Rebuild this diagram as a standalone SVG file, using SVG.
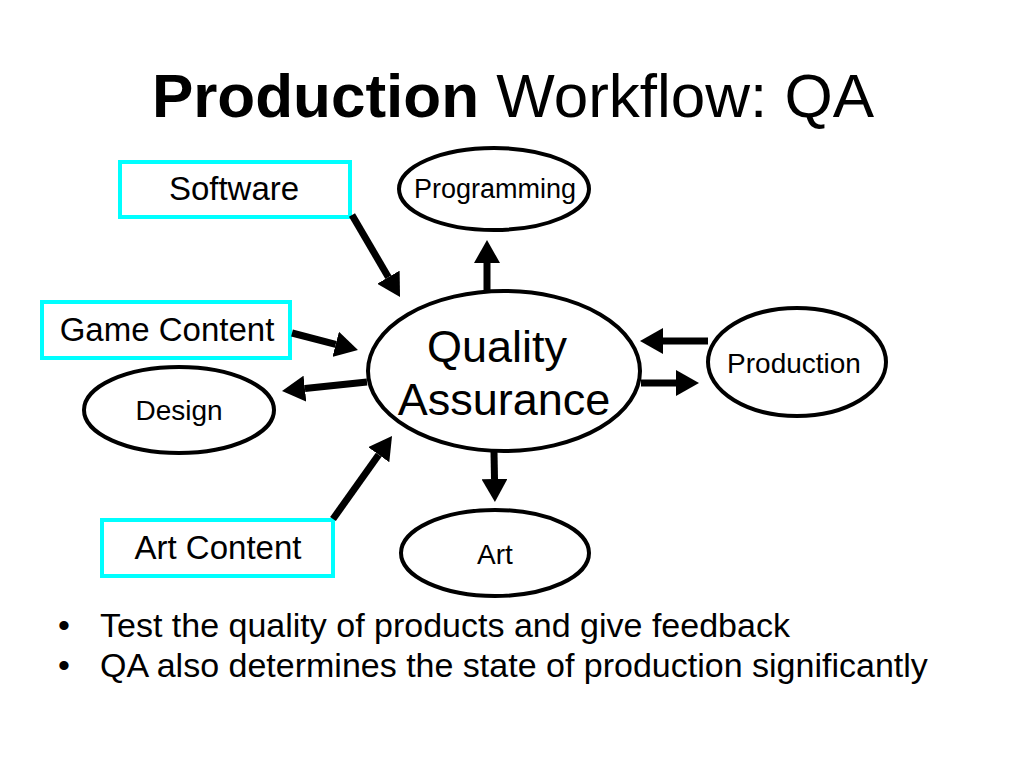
<svg xmlns="http://www.w3.org/2000/svg" width="1024" height="768" viewBox="0 0 1024 768">
<style>
text{font-family:"Liberation Sans",Arial,sans-serif;fill:#000}
.box{fill:#fff;stroke:#00ffff;stroke-width:4}
.ell{fill:#fff;stroke:#000;stroke-width:4}
.arr{stroke:#000;stroke-width:7;fill:none;marker-end:url(#ah)}
</style>
<defs>
<marker id="ah" markerUnits="userSpaceOnUse" markerWidth="24" markerHeight="26" refX="0" refY="13" orient="auto">
<path d="M0,0 L23,13 L0,26 z" fill="#000"/>
</marker>
</defs>
<rect width="1024" height="768" fill="#fff"/>
<text x="513" y="117" font-size="62" text-anchor="middle"><tspan font-weight="bold">Production</tspan> Workflow: QA</text>

<g id="software"><rect class="box" x="120" y="162" width="230" height="55"/><text x="234" y="200" font-size="33" text-anchor="middle">Software</text></g>
<g id="game-content"><rect class="box" x="42" y="302" width="248" height="56"/><text x="167" y="341" font-size="33" text-anchor="middle">Game Content</text></g>
<g id="art-content"><rect class="box" x="102" y="520" width="231" height="56"/><text x="218" y="559" font-size="33" text-anchor="middle">Art Content</text></g>

<g id="programming"><ellipse class="ell" cx="494" cy="189" rx="95" ry="41"/><text x="495" y="198" font-size="27" text-anchor="middle">Programming</text></g>
<g id="qa"><ellipse class="ell" cx="504" cy="371" rx="136" ry="80"/><text x="497" y="362" font-size="45" text-anchor="middle">Quality</text><text x="504" y="415" font-size="45" text-anchor="middle">Assurance</text></g>
<g id="production"><ellipse class="ell" cx="797" cy="362" rx="89" ry="54"/><text x="794" y="373" font-size="28" text-anchor="middle">Production</text></g>
<g id="design"><ellipse class="ell" cx="179" cy="410" rx="95" ry="43"/><text x="179" y="420" font-size="28" text-anchor="middle">Design</text></g>
<g id="art"><ellipse class="ell" cx="495" cy="553" rx="94" ry="43"/><text x="495" y="564" font-size="28" text-anchor="middle">Art</text></g>

<g id="connectors">
<line class="arr" x1="352" y1="215" x2="388.4" y2="277.2"/>
<line class="arr" x1="487" y1="290" x2="487" y2="263"/>
<line class="arr" x1="292" y1="333" x2="335.7" y2="344.3"/>
<line class="arr" x1="367" y1="382" x2="304.9" y2="388.6"/>
<line class="arr" x1="708" y1="341" x2="663" y2="341"/>
<line class="arr" x1="641" y1="383" x2="676" y2="383"/>
<line class="arr" x1="494" y1="452" x2="494.5" y2="479"/>
<line class="arr" x1="333" y1="519" x2="378.7" y2="454.7"/>
</g>

<g id="bullets">
<text x="58" y="637" font-size="34">•</text><text x="100" y="637" font-size="34">Test the quality of products and give feedback</text>
<text x="58" y="677" font-size="34">•</text><text x="100" y="677" font-size="34">QA also determines the state of production significantly</text>
</g>
</svg>
